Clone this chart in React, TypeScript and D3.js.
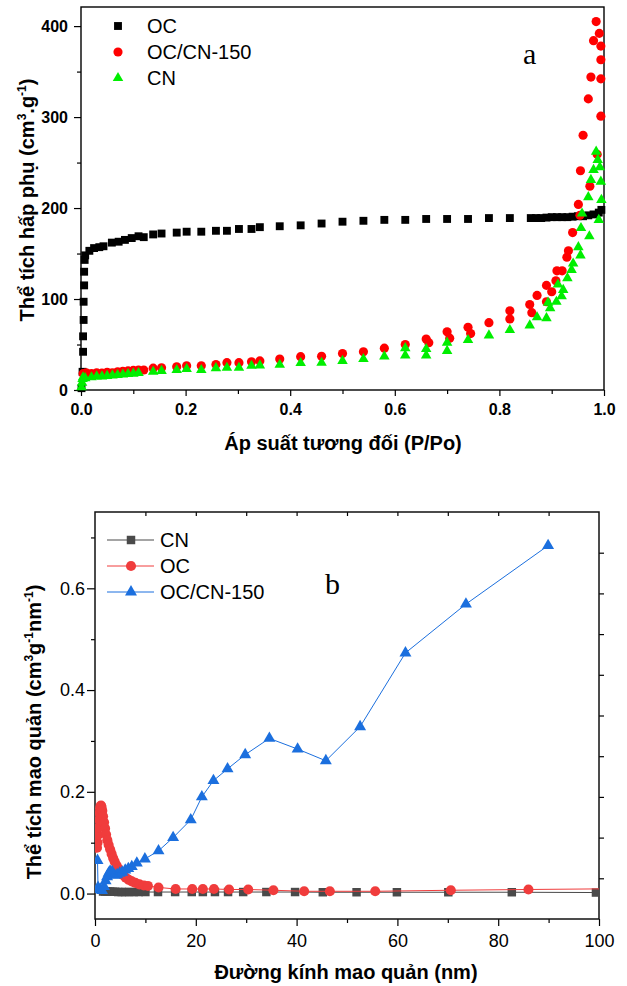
import React, { useEffect, useRef } from "react";
import * as d3 from "d3";

type Pt = [number, number];

// (a) adsorption isotherms: [P/Po, volume]
const ocIso: Pt[] = [
  [0.001, 2], [0.003, 20], [0.004, 42], [0.004, 59], [0.005, 77], [0.005, 97], [0.006, 115],
  [0.006, 130], [0.007, 143], [0.008, 148], [0.016, 153], [0.025, 156], [0.035, 157],
  [0.043, 158], [0.059, 162], [0.072, 163], [0.084, 165], [0.097, 167], [0.11, 169], [0.12, 168],
  [0.138, 171], [0.154, 172], [0.183, 173], [0.202, 174], [0.23, 174], [0.258, 175], [0.279, 175],
  [0.302, 177], [0.326, 177], [0.342, 179], [0.38, 180], [0.42, 181], [0.46, 183], [0.5, 185],
  [0.54, 186], [0.58, 187], [0.62, 187], [0.66, 188], [0.7, 188], [0.74, 188], [0.78, 189],
  [0.82, 189], [0.86, 189], [0.87, 189], [0.88, 189], [0.89, 189.5], [0.9, 190], [0.91, 190],
  [0.92, 190], [0.93, 190], [0.94, 190.5], [0.95, 191], [0.96, 191], [0.97, 192], [0.98, 193],
  [0.99, 195], [0.995, 198],
];

const ocCn150Iso: Pt[] = [
  [0.004, 18], [0.01, 19], [0.02, 18], [0.03, 19], [0.04, 18.5], [0.05, 19.5], [0.06, 19],
  [0.07, 20], [0.08, 20.5], [0.09, 21], [0.1, 21.5], [0.11, 22], [0.12, 22], [0.138, 24],
  [0.154, 24.5], [0.183, 25.6], [0.202, 26.7], [0.23, 26.7], [0.258, 28], [0.279, 30], [0.302, 30],
  [0.326, 31], [0.342, 32], [0.38, 34], [0.42, 36.6], [0.46, 37], [0.5, 40], [0.54, 42], [0.58, 46],
  [0.62, 50], [0.66, 56], [0.665, 52], [0.7, 64], [0.705, 57], [0.74, 69], [0.745, 62], [0.78, 74],
  [0.82, 87], [0.82, 78], [0.858, 94], [0.862, 85], [0.872, 104], [0.89, 115], [0.89, 97],
  [0.9, 108], [0.908, 120], [0.91, 131], [0.92, 131], [0.929, 146], [0.932, 153], [0.94, 173],
  [0.951, 204], [0.954, 192], [0.955, 241], [0.96, 280], [0.97, 320], [0.973, 224], [0.975, 344],
  [0.98, 384], [0.985, 405], [0.987, 259], [0.991, 392], [0.994, 378], [0.994, 363], [0.994, 342],
  [0.994, 301],
];

const cnIso: Pt[] = [
  [0.001, 3], [0.002, 8], [0.003, 12], [0.004, 14], [0.008, 13], [0.02, 14], [0.03, 15], [0.04, 15],
  [0.05, 15.5], [0.06, 16], [0.07, 16.5], [0.08, 17], [0.09, 17.5], [0.1, 18], [0.11, 18.6],
  [0.138, 20], [0.154, 21], [0.183, 22], [0.202, 23], [0.23, 22], [0.258, 24], [0.279, 24.5],
  [0.302, 24.5], [0.326, 26.7], [0.342, 27], [0.38, 27.8], [0.42, 29.6], [0.46, 30], [0.5, 32],
  [0.54, 34], [0.58, 37], [0.62, 38], [0.62, 46], [0.66, 38], [0.66, 45], [0.7, 43], [0.7, 52],
  [0.74, 55], [0.78, 60], [0.82, 66], [0.858, 71], [0.872, 80], [0.89, 79], [0.893, 96],
  [0.897, 90], [0.909, 97], [0.912, 116], [0.919, 103], [0.922, 110], [0.93, 123], [0.938, 132],
  [0.941, 139], [0.951, 157], [0.955, 148], [0.956, 178], [0.958, 194], [0.97, 212], [0.972, 169],
  [0.975, 231], [0.98, 242], [0.985, 262], [0.988, 253], [0.99, 187], [0.992, 245], [0.994, 229],
  [0.995, 209],
];

const isoLegend = ["OC", "OC/CN-150", "CN"];
const xTicksA = [0, 0.2, 0.4, 0.6, 0.8, 1.0];
const xMinorA = [0.1, 0.3, 0.5, 0.7, 0.9];
const yTicksA = [0, 100, 200, 300, 400];
const yMinorA = [50, 150, 250, 350];

// (b) pore size distribution: [diameter nm, volume]
const cnPsd: Pt[] = [
  [1.6, 0.004], [2.0, 0.004], [2.5, 0.004], [3.0, 0.004], [3.5, 0.0035], [4.0, 0.0035],
  [4.6, 0.003], [5.3, 0.003], [6.0, 0.003], [6.8, 0.003], [7.7, 0.003], [8.7, 0.003], [10.0, 0.003],
  [12.5, 0.003], [15.9, 0.003], [19.2, 0.003], [21.4, 0.003], [23.8, 0.003], [26.4, 0.003],
  [29.4, 0.003], [34, 0.003], [39.7, 0.003], [45.2, 0.0026], [51.9, 0.0026], [59.9, 0.0026],
  [70.1, 0.0026], [82.7, 0.0026], [99.4, 0.002],
];

const ocPsd: Pt[] = [
  [0.4, 0.09], [0.5, 0.1], [0.6, 0.115], [0.7, 0.13], [0.8, 0.145], [0.9, 0.158], [1.0, 0.167],
  [1.1, 0.172], [1.2, 0.173], [1.3, 0.17], [1.45, 0.163], [1.6, 0.152], [1.8, 0.14], [2.0, 0.128],
  [2.2, 0.116], [2.45, 0.105], [2.7, 0.096], [3.0, 0.087], [3.3, 0.078], [3.6, 0.07], [3.9, 0.063],
  [4.3, 0.055], [4.7, 0.048], [5.1, 0.042], [5.6, 0.036], [6.1, 0.031], [6.7, 0.027], [7.3, 0.024],
  [8.0, 0.021], [8.8, 0.018], [9.7, 0.016], [10.5, 0.015], [12.6, 0.012], [16, 0.009],
  [19.3, 0.009], [21.4, 0.009], [23.6, 0.009], [26.6, 0.008], [30.4, 0.008], [35.4, 0.0065],
  [41.5, 0.0045], [46.6, 0.0045], [55.6, 0.0045], [70.6, 0.0065], [86, 0.008], [104, 0.0095],
];

const ocCn150Psd: Pt[] = [
  [0.5, 0.065], [0.6, 0.012], [1.0, 0.008], [1.4, 0.006], [1.8, 0.014], [2.1, 0.025], [2.4, 0.033],
  [2.7, 0.04], [3.0, 0.044], [3.4, 0.043], [3.9, 0.036], [4.4, 0.037], [4.9, 0.04], [5.4, 0.042],
  [6.0, 0.046], [6.6, 0.049], [7.3, 0.053], [8.3, 0.06], [9.9, 0.068], [12.6, 0.084], [15.5, 0.11],
  [19, 0.145], [21.2, 0.19], [23.5, 0.222], [26.3, 0.245], [29.8, 0.273], [34.6, 0.305],
  [40.2, 0.284], [45.8, 0.261], [52.6, 0.328], [61.6, 0.473], [73.6, 0.569], [89.9, 0.684],
];

const psdLegend = ["CN", "OC", "OC/CN-150"];
const xTicksB = [0, 20, 40, 60, 80, 100];
const xMinorB = [10, 30, 50, 70, 90];
const yTicksB = [0, 0.2, 0.4, 0.6];
const yMinorB = [0.1, 0.3, 0.5, 0.7];
const rightTicksB = [0.03, 0.11, 0.19, 0.27, 0.35, 0.43, 0.51, 0.59, 0.67];
const topTicksB = [10, 20, 30, 40, 50, 60, 70, 80, 90];

const SANS = "'Liberation Sans', Arial, sans-serif";
const SERIF = "'Liberation Serif', 'Times New Roman', serif";

export default function App() {
  const ref = useRef<SVGSVGElement>(null);

  useEffect(() => {
    if (!ref.current) return;
    const svg = d3.select(ref.current);
    svg.selectAll("*").remove();

    const styleAxis = (g: any, size: number, weight: string) => {
      g.select(".domain").remove();
      g.selectAll("line").attr("stroke", "#000").attr("stroke-width", 1.2);
      g.selectAll("text")
        .attr("font-family", SANS)
        .attr("font-size", size)
        .attr("font-weight", weight)
        .attr("fill", "#000");
    };

    // ---------- chart a ----------
    const xa = d3.scaleLinear().domain([0, 1]).range([81, 604]);
    const ya = d3.scaleLinear().domain([0, 421]).range([390, 7]);
    const a = svg.append("g");

    a.append("g")
      .attr("transform", "translate(0,390)")
      .call(d3.axisBottom(xa).tickValues(xTicksA).tickSize(6).tickPadding(8).tickSizeOuter(0).tickFormat(d3.format(".1f")))
      .call((g) => styleAxis(g, 16, "bold"));
    a.append("g")
      .attr("transform", "translate(0,390)")
      .call(d3.axisBottom(xa).tickValues(xMinorA).tickSize(4).tickFormat(() => ""))
      .call((g) => styleAxis(g, 16, "bold"));
    a.append("g")
      .attr("transform", "translate(81,0)")
      .call(d3.axisLeft(ya).tickValues(yTicksA).tickSize(7).tickPadding(6).tickSizeOuter(0))
      .call((g) => styleAxis(g, 16, "bold"));
    a.append("g")
      .attr("transform", "translate(81,0)")
      .call(d3.axisLeft(ya).tickValues(yMinorA).tickSize(4).tickFormat(() => ""))
      .call((g) => styleAxis(g, 16, "bold"));

    a.append("rect")
      .attr("x", xa(0)).attr("y", ya(421))
      .attr("width", xa(1) - xa(0)).attr("height", ya(0) - ya(421))
      .attr("fill", "none").attr("stroke", "#000").attr("stroke-width", 1.4);

    const symA = [
      { data: ocIso, color: "#000000", type: d3.symbolSquare, size: 62 },
      { data: ocCn150Iso, color: "#ff0000", type: d3.symbolCircle, size: 66 },
      { data: cnIso, color: "#00ee00", type: d3.symbolTriangle, size: 48 },
    ];
    symA.forEach((s) => {
      a.append("g")
        .selectAll("path")
        .data(s.data)
        .enter()
        .append("path")
        .attr("transform", (d) => `translate(${xa(d[0])},${ya(d[1])})`)
        .attr("d", d3.symbol().type(s.type).size(s.size)())
        .attr("fill", s.color);
    });

    const legA = a.append("g").selectAll("g").data(isoLegend).enter().append("g")
      .attr("transform", (d, i) => `translate(118,${26 + i * 26})`);
    legA.append("path")
      .attr("d", (d, i) => d3.symbol().type(symA[i].type).size(symA[i].size)())
      .attr("fill", (d, i) => symA[i].color);
    legA.append("text")
      .attr("x", 29).attr("dy", "0.36em")
      .attr("font-family", SANS).attr("font-size", 20)
      .text((d) => d);

    a.append("text")
      .attr("x", 523).attr("y", 64)
      .attr("font-family", SERIF).attr("font-size", 30)
      .text("a");

    a.append("text")
      .attr("x", 343).attr("y", 450)
      .attr("text-anchor", "middle")
      .attr("font-family", SANS).attr("font-size", 20).attr("font-weight", "bold")
      .text("Áp suất tương đối (P/Po)");

    const tya = a.append("text")
      .attr("transform", "translate(34,200) rotate(-90)")
      .attr("text-anchor", "middle")
      .attr("font-family", SANS).attr("font-size", 20).attr("font-weight", "bold");
    tya.append("tspan").text("Thể tích hấp phụ (cm");
    tya.append("tspan").attr("font-size", 12).attr("dy", -8).text("3");
    tya.append("tspan").attr("dy", 8).text(".g");
    tya.append("tspan").attr("font-size", 12).attr("dy", -8).text("-1");
    tya.append("tspan").attr("dy", 8).text(")");

    // ---------- chart b ----------
    const xb = d3.scaleLinear().domain([0, 100]).range([95, 599]);
    const yb = d3.scaleLinear().domain([-0.05, 0.75]).range([919, 512]);
    const b = svg.append("g");

    b.append("defs").append("clipPath").attr("id", "clipB")
      .append("rect")
      .attr("x", xb(0)).attr("y", yb(0.75))
      .attr("width", xb(100) - xb(0)).attr("height", yb(-0.05) - yb(0.75));

    b.append("g")
      .attr("transform", "translate(0,919)")
      .call(d3.axisBottom(xb).tickValues(xTicksB).tickSize(7).tickPadding(8).tickSizeOuter(0).tickFormat(d3.format("d")))
      .call((g) => styleAxis(g, 18, "normal"));
    b.append("g")
      .attr("transform", "translate(0,919)")
      .call(d3.axisBottom(xb).tickValues(xMinorB).tickSize(4).tickFormat(() => ""))
      .call((g) => styleAxis(g, 18, "normal"));
    b.append("g")
      .attr("transform", "translate(95,0)")
      .call(d3.axisLeft(yb).tickValues(yTicksB).tickSize(8).tickPadding(2).tickSizeOuter(0).tickFormat(d3.format(".1f")))
      .call((g) => styleAxis(g, 18, "normal"));
    b.append("g")
      .attr("transform", "translate(95,0)")
      .call(d3.axisLeft(yb).tickValues(yMinorB).tickSize(4).tickFormat(() => ""))
      .call((g) => styleAxis(g, 18, "normal"));
    b.append("g")
      .attr("transform", "translate(599,0)")
      .call(d3.axisLeft(yb).tickValues(rightTicksB).tickSize(-5).tickFormat(() => ""))
      .call((g) => styleAxis(g, 18, "normal"));
    b.append("g")
      .attr("transform", "translate(0,512)")
      .call(d3.axisTop(xb).tickValues(topTicksB).tickSize(-4).tickFormat(() => ""))
      .call((g) => styleAxis(g, 18, "normal"));

    b.append("rect")
      .attr("x", xb(0)).attr("y", yb(0.75))
      .attr("width", xb(100) - xb(0)).attr("height", yb(-0.05) - yb(0.75))
      .attr("fill", "none").attr("stroke", "#111").attr("stroke-width", 1.5);

    const symB = [
      { data: cnPsd, color: "#4a4a4a", type: d3.symbolSquare, size: 72 },
      { data: ocPsd, color: "#f03c3c", type: d3.symbolCircle, size: 80 },
      { data: ocCn150Psd, color: "#1b6fde", type: d3.symbolTriangle, size: 62 },
    ];
    const line = d3.line<Pt>().x((d) => xb(d[0])).y((d) => yb(d[1]));
    symB.forEach((s) => {
      const g = b.append("g").attr("clip-path", "url(#clipB)");
      g.append("path")
        .attr("d", line(s.data))
        .attr("fill", "none")
        .attr("stroke", s.color)
        .attr("stroke-width", 1);
      g.selectAll("path.m")
        .data(s.data)
        .enter()
        .append("path")
        .attr("class", "m")
        .attr("transform", (d) => `translate(${xb(d[0])},${yb(d[1])})`)
        .attr("d", d3.symbol().type(s.type).size(s.size)())
        .attr("fill", s.color);
    });

    const legB = b.append("g").selectAll("g").data(psdLegend).enter().append("g")
      .attr("transform", (d, i) => `translate(131,${540 + i * 26})`);
    legB.append("line")
      .attr("x1", -24).attr("x2", 23)
      .attr("stroke", (d, i) => symB[i].color).attr("stroke-width", 1);
    legB.append("path")
      .attr("d", (d, i) => d3.symbol().type(symB[i].type).size(symB[i].size)())
      .attr("fill", (d, i) => symB[i].color);
    legB.append("text")
      .attr("x", 29).attr("dy", "0.36em")
      .attr("font-family", SANS).attr("font-size", 20)
      .text((d) => d);

    b.append("text")
      .attr("x", 325).attr("y", 594)
      .attr("font-family", SERIF).attr("font-size", 30)
      .text("b");

    b.append("text")
      .attr("x", 346).attr("y", 979)
      .attr("text-anchor", "middle")
      .attr("font-family", SANS).attr("font-size", 20).attr("font-weight", "bold")
      .text("Đường kính mao quản (nm)");

    const tyb = b.append("text")
      .attr("transform", "translate(41,732) rotate(-90)")
      .attr("text-anchor", "middle")
      .attr("font-family", SANS).attr("font-size", 20).attr("font-weight", "bold");
    tyb.append("tspan").text("Thể tích mao quản (cm");
    tyb.append("tspan").attr("font-size", 12).attr("dy", -8).text("3");
    tyb.append("tspan").attr("dy", 8).text("g");
    tyb.append("tspan").attr("font-size", 12).attr("dy", -8).text("-1");
    tyb.append("tspan").attr("dy", 8).text("nm");
    tyb.append("tspan").attr("font-size", 12).attr("dy", -8).text("-1");
    tyb.append("tspan").attr("dy", 8).text(")");
  }, []);

  return (
    <svg
      ref={ref}
      width={627}
      height={986}
      style={{ position: "absolute", left: 0, top: 0, background: "#fff" }}
    />
  );
}
